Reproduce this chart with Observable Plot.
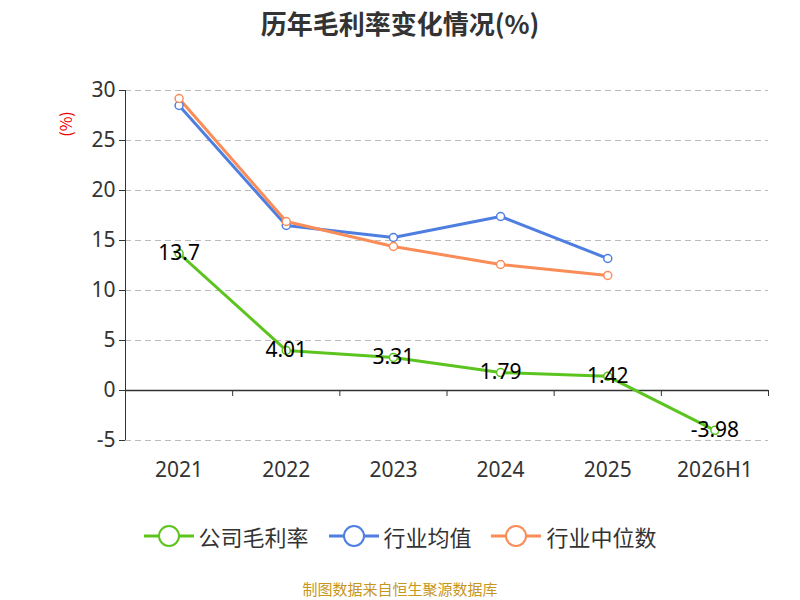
<!DOCTYPE html>
<html><head><meta charset="utf-8">
<script src="https://cdn.jsdelivr.net/npm/d3@7"></script>
<script src="https://cdn.jsdelivr.net/npm/@observablehq/plot@0.6"></script>
<style>
body{margin:0;font-family:"Noto Sans CJK SC","Noto Sans",sans-serif;}
#wrap{position:relative;width:800px;height:600px;}
#title{position:absolute;top:4px;left:0;width:800px;text-align:center;font-size:26px;font-weight:bold;color:#333;}
#legend{position:absolute;top:520px;left:0;width:800px;text-align:center;font-size:22px;color:#333;}
#legend span{margin:0 10px;display:inline-flex;align-items:center;}
#cap{position:absolute;top:578px;left:0;width:800px;text-align:center;font-size:15px;color:#c8961e;}
#ylab{position:absolute;left:52px;top:112px;color:#e00;font-size:16px;transform:rotate(-90deg);}
</style></head><body>
<div id="wrap"><div id="plot"></div>
<div id="title">历年毛利率变化情况(%)</div>
<div id="ylab">(%)</div>
<div id="legend"></div>
<div id="cap">制图数据来自恒生聚源数据库</div></div>
<script>
const years=["2021","2022","2023","2024","2025","2026H1"];
const company=[13.7,4.01,3.31,1.79,1.42,-3.98];
const industryAvg=[28.5,16.5,15.3,17.4,13.2];
const industryMedian=[29.2,16.9,14.4,12.6,11.5];
const yTicks=[-5,0,5,10,15,20,25,30];
const names=["公司毛利率","行业均值","行业中位数"];
const colors=["#5cc41f","#4e7fe0","#fa8c58"];
const series=[company,industryAvg,industryMedian];
const data=[];
series.forEach((s,k)=>s.forEach((v,i)=>data.push({i,v,k})));
const bounds=d3.range(years.length+1).map(i=>i-0.5);
const plot=Plot.plot({
 width:800,height:600,marginTop:90,marginBottom:160,marginLeft:125,marginRight:32,
 style:{fontSize:"21px",fontFamily:"Noto Sans, sans-serif",color:"#333",background:"transparent"},
 x:{type:"linear",domain:[-0.5,years.length-0.5],ticks:d3.range(years.length),tickFormat:i=>years[i],tickSize:0,label:null,tickPadding:22},
 y:{domain:[-5,30],ticks:yTicks,label:null,tickSize:6,tickPadding:4,tickFormat:d=>d},
 marks:[
  Plot.ruleY(yTicks.filter(d=>d!==0),{stroke:"#bbb",strokeDasharray:"6,4",strokeWidth:1.2}),
  Plot.ruleX([-0.5],{stroke:"#333"}),
  Plot.ruleY([0],{stroke:"#333",strokeWidth:1.5}),
  Plot.ruleX(bounds,{y1:0,y2:-0.6,stroke:"#333"}),
  Plot.line(data,{x:"i",y:"v",z:"k",stroke:d=>colors[d.k],strokeWidth:3}),
  Plot.dot(data,{x:"i",y:"v",r:4,fill:"white",stroke:d=>colors[d.k],strokeWidth:1.5}),
  Plot.text(company,{x:(d,i)=>i,y:d=>d,text:d=>String(d),fontSize:21,fill:"#000"})
 ]});
document.getElementById("plot").appendChild(plot);
document.getElementById("legend").innerHTML=names.map((n,k)=>
 `<span><svg width="50" height="24"><line x1="0" y1="12" x2="50" y2="12" stroke="${colors[k]}" stroke-width="3"/><circle cx="25" cy="12" r="10" fill="white" stroke="${colors[k]}" stroke-width="2"/></svg>&nbsp;${n}</span>`).join("");
</script></body></html>
